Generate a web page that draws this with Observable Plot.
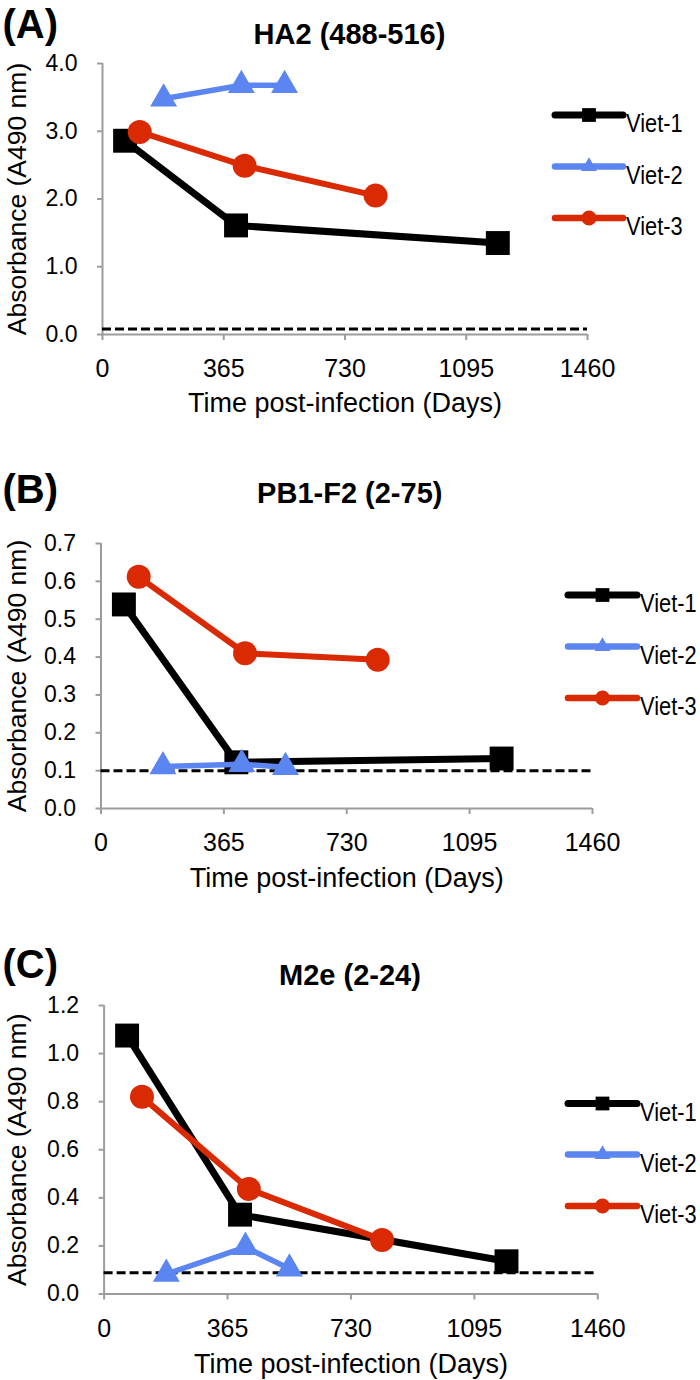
<!DOCTYPE html>
<html>
<head>
<meta charset="utf-8">
<script src="https://cdn.jsdelivr.net/npm/d3@7"></script>
<script src="https://cdn.jsdelivr.net/npm/@observablehq/plot@0.6"></script>
<style>
  html, body { margin: 0; padding: 0; background: #fff; }
  #root { position: relative; width: 700px; height: 1380px; overflow: hidden; background: #fff; }
  .panel { position: absolute; left: 0; width: 700px; }
  .panel svg { display: block; }
</style>
</head>
<body>
<div id="root"></div>
<script>
// ---------------- data ----------------
const seriesNames = ["Viet-1", "Viet-2", "Viet-3"];
const seriesColors = ["#000000", "#5b86f2", "#d92a03"];
const seriesSymbols = ["square", "triangle", "circle"];

// sampling times (days post-infection) per patient
const daysViet1 = [68, 402, 1190];
const daysViet2 = [184, 418, 548];
const daysViet3 = [112, 428, 822];

const xTicks = [0, 365, 730, 1095, 1460];

const panelLetters = ["(A)", "(B)", "(C)"];
const panelTitles = ["HA2 (488-516)", "PB1-F2 (2-75)", "M2e (2-24)"];

// (A) HA2
const haViet1 = [2.86, 1.61, 1.35];
const haViet2 = [3.48, 3.68, 3.68];
const haViet3 = [2.99, 2.49, 2.05];
const haCutoff = 0.08;
const haYTicks = [0, 1, 2, 3, 4];

// (B) PB1-F2
const pbViet1 = [0.539, 0.122, 0.132];
const pbViet2 = [0.111, 0.117, 0.109];
const pbViet3 = [0.612, 0.410, 0.393];
const pbCutoff = 0.10;
const pbYTicks = [0, 0.1, 0.2, 0.3, 0.4, 0.5, 0.6, 0.7];

// (C) M2e
const m2Viet1 = [1.075, 0.330, 0.136];
const m2Viet2 = [0.083, 0.195, 0.105];
const m2Viet3 = [0.820, 0.437, 0.225];
const m2Cutoff = 0.088;
const m2YTicks = [0, 0.2, 0.4, 0.6, 0.8, 1.0, 1.2];

const xLabel = "Time post-infection (Days)";
const yLabel = "Absorbance (A490 nm)";

// ---------------- styling / layout ----------------
const FONT = "'Liberation Sans', Arial, Helvetica, sans-serif";
const AXIS_GRAY = "#9c9c9c";
const lineWidths = [7, 5.5, 6];
const dotR = [13.5, 10, 12];

const layouts = [
  { top: 0,   height: 440, mt: 63,  mb: 106,  ml: 102,   mr: 113,
    titleDx: 4.5, titleDy: -20, letterDy: -26, xTitleDy: 77,
    legX0: 555, legX1: 623, legText: 626, legY: [115, 166.5, 218] },
  { top: 440, height: 460, mt: 103, mb: 92,   ml: 100.5, mr: 108,
    titleDx: 3, titleDy: -41, letterDy: -41, xTitleDy: 78,
    legX0: 568, legX1: 637, legText: 640, legY: [155, 206.5, 258] },
  { top: 900, height: 480, mt: 105, mb: 86.5, ml: 103.6, mr: 102.7,
    titleDx: -1, titleDy: -21, letterDy: -28, xTitleDy: 79,
    legX0: 568, legX1: 637, legText: 640, legY: [203.5, 254.5, 306] }
];

const panels = [
  { values: [haViet1, haViet2, haViet3], cutoff: haCutoff, yTicks: haYTicks },
  { values: [pbViet1, pbViet2, pbViet3], cutoff: pbCutoff, yTicks: pbYTicks },
  { values: [m2Viet1, m2Viet2, m2Viet3], cutoff: m2Cutoff, yTicks: m2YTicks }
];
const seriesDays = [daysViet1, daysViet2, daysViet3];

const root = document.getElementById("root");

panels.forEach((p, i) => {
  const L = layouts[i];
  const rows = [];
  p.values.forEach((vals, s) => {
    vals.forEach((v, j) => rows.push({ series: seriesNames[s], s, day: seriesDays[s][j], value: v }));
  });
  const yMax = p.yTicks[p.yTicks.length - 1];

  const seriesMarks = [];
  seriesNames.forEach((name, s) => {
    const d = rows.filter(r => r.s === s);
    seriesMarks.push(Plot.line(d, {
      x: "day", y: "value", stroke: seriesColors[s], strokeWidth: lineWidths[s],
      strokeLinejoin: "round", strokeLinecap: "round"
    }));
    seriesMarks.push(Plot.dot(d, {
      x: "day", y: "value", symbol: () => seriesSymbols[s], r: dotR[s],
      fill: seriesColors[s], stroke: "none"
    }));
  });

  const chart = Plot.plot({
    width: 700,
    height: L.height,
    marginTop: L.mt, marginBottom: L.mb, marginLeft: L.ml, marginRight: L.mr,
    style: { fontFamily: FONT, background: "white", color: "#000", overflow: "visible" },
    x: { domain: [0, 1460], label: null },
    y: { domain: [0, yMax], label: null },
    symbol: { type: "identity" },
    marks: [
      Plot.axisY({ ticks: p.yTicks, tickFormat: d3.format(".1f"), tickSize: 5, tickPadding: 20,
        stroke: AXIS_GRAY, strokeWidth: 2, fill: "#000", fontSize: 23, fontFamily: FONT, label: null }),
      Plot.axisX({ ticks: xTicks, tickFormat: d => String(d), tickSize: 6, tickPadding: 19,
        stroke: AXIS_GRAY, strokeWidth: 2, fill: "#000", fontSize: 25, fontFamily: FONT, label: null }),
      Plot.ruleX([0], { stroke: AXIS_GRAY, strokeWidth: 2 }),
      Plot.ruleY([0], { stroke: AXIS_GRAY, strokeWidth: 2 }),
      Plot.ruleY([p.cutoff], { stroke: "#000", strokeWidth: 3, strokeDasharray: "9,4" }),
      ...seriesMarks,
      // panel letter
      Plot.text([panelLetters[i]], { text: d => d, frameAnchor: "top-left", textAnchor: "start",
        lineAnchor: "bottom", dx: 2 - L.ml, dy: L.letterDy, fontSize: 40, fontWeight: "bold", fill: "#000" }),
      // title
      Plot.text([panelTitles[i]], { text: d => d, frameAnchor: "top", textAnchor: "middle",
        lineAnchor: "bottom", dx: L.titleDx, dy: L.titleDy, fontSize: 29, fontWeight: "bold", fill: "#000" }),
      // x title
      Plot.text([xLabel], { text: d => d, frameAnchor: "bottom", textAnchor: "middle",
        lineAnchor: "bottom", dy: L.xTitleDy, fontSize: 27, fill: "#000" }),
      // y title
      Plot.text([yLabel], { text: d => d, frameAnchor: "left", textAnchor: "middle",
        lineAnchor: "bottom", rotate: -90, dx: 25 - L.ml, fontSize: 26.5, fill: "#000" })
    ]
  });

  // legend
  const svg = d3.select(chart);
  const g = svg.append("g").attr("class", "legend");
  seriesNames.forEach((name, s) => {
    const y = L.legY[s];
    const cx = (L.legX0 + L.legX1) / 2;
    g.append("line")
      .attr("x1", L.legX0).attr("x2", L.legX1).attr("y1", y).attr("y2", y)
      .attr("stroke", seriesColors[s]).attr("stroke-width", s === 0 ? 7 : 6.5)
      .attr("stroke-linecap", "round");
    const sym = s === 0 ? d3.symbolSquare : s === 1 ? d3.symbolTriangle : d3.symbolCircle;
    const size = s === 0 ? 190 : s === 1 ? 110 : 180;
    g.append("path").attr("d", d3.symbol(sym, size)())
      .attr("transform", `translate(${cx},${y})`).attr("fill", seriesColors[s]);
    g.append("text")
      .attr("transform", `translate(${L.legText},${y + 17}) scale(0.84,1)`)
      .attr("text-anchor", "start")
      .attr("font-family", FONT).attr("font-size", 26).attr("fill", "#000").text(name);
  });

  const div = document.createElement("div");
  div.className = "panel";
  div.style.top = L.top + "px";
  div.style.height = L.height + "px";
  div.appendChild(chart);
  root.appendChild(div);
});
</script>
</body>
</html>
